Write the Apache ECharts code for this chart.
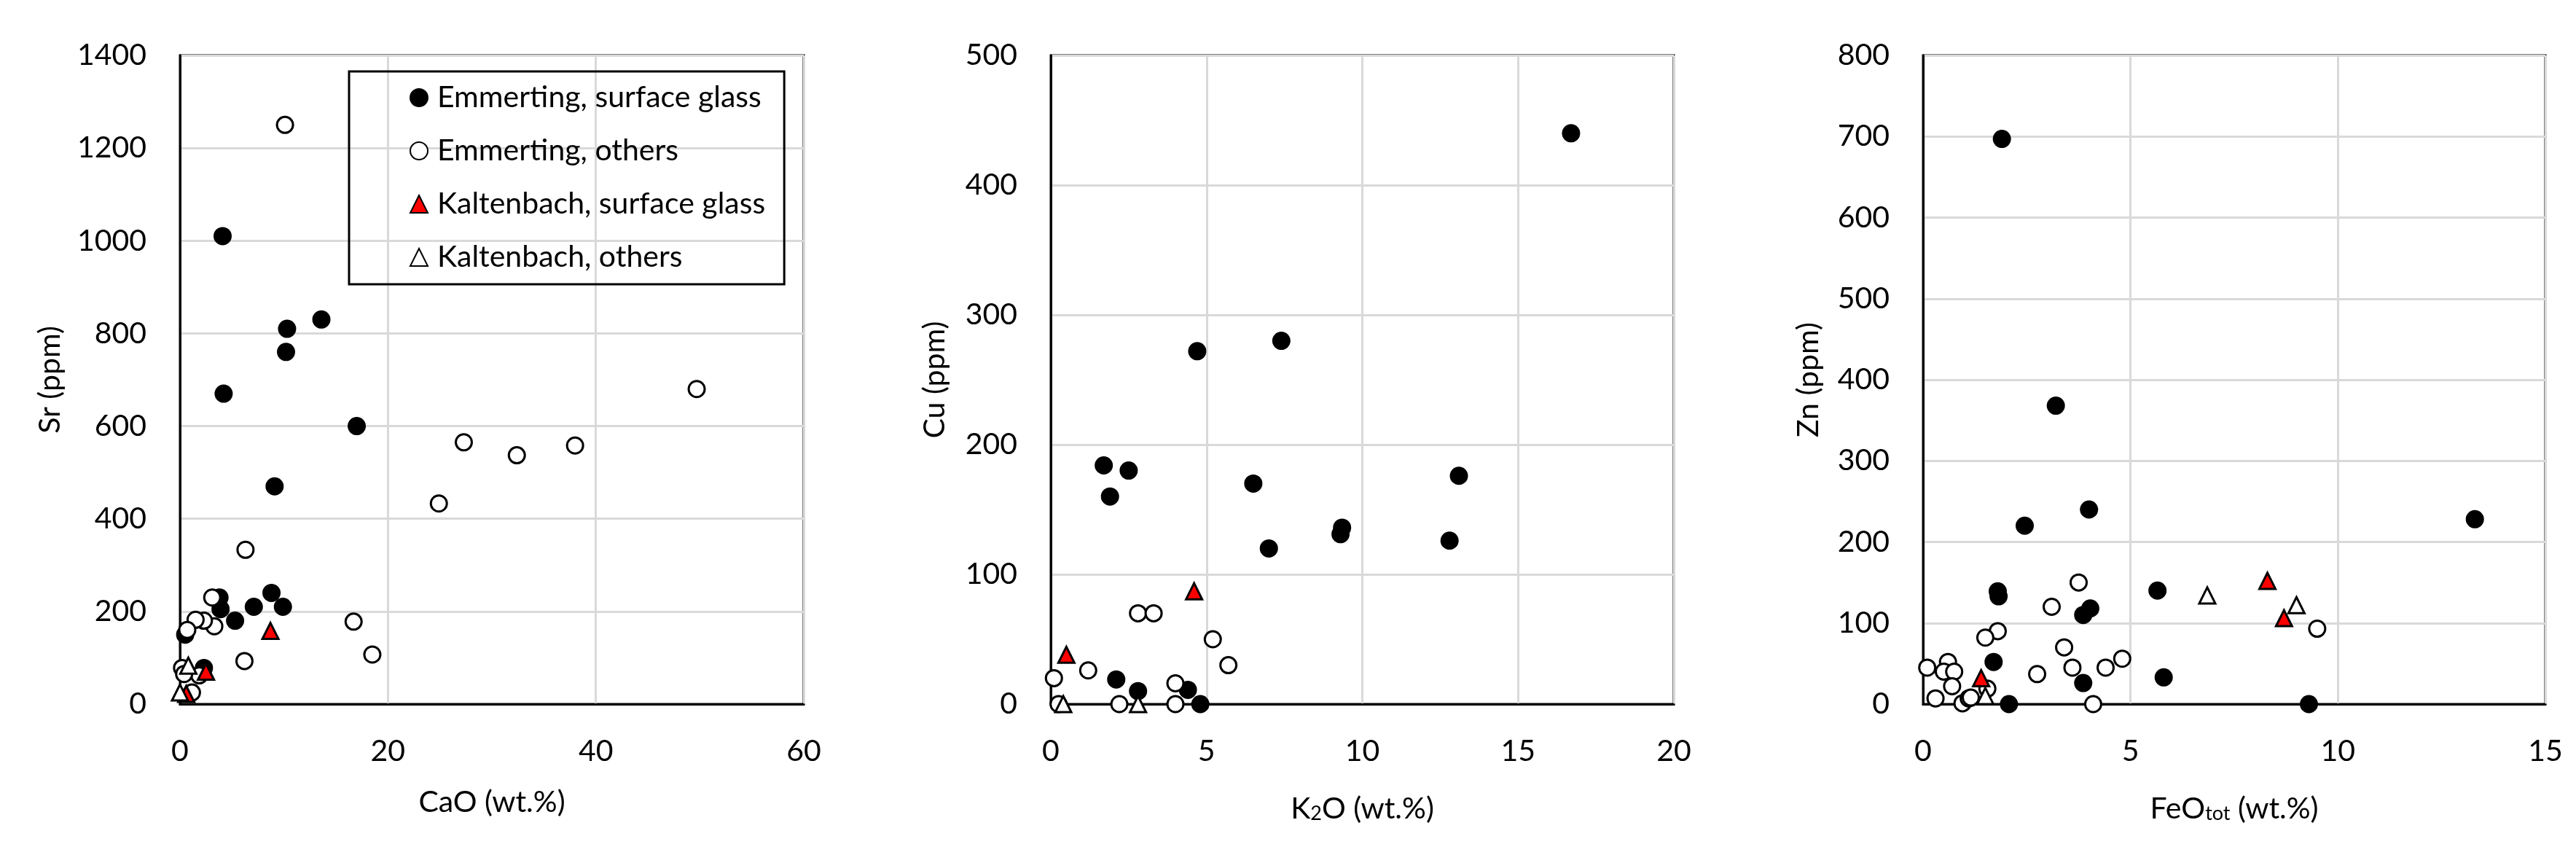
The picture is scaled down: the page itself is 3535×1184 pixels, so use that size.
<!DOCTYPE html>
<html>
<head>
<meta charset="utf-8">
<script src="https://cdn.jsdelivr.net/npm/echarts@6/dist/echarts.min.js"></script>
<style>
  html, body { margin: 0; padding: 0; background: #fff; }
  #chart { width: 3535px; height: 1184px; }
</style>
</head>
<body>
<div id="chart"></div>
<script>
// series names
var seriesNames = ['Emmerting, surface glass', 'Emmerting, others', 'Kaltenbach, surface glass', 'Kaltenbach, others'];

// Sr vs CaO
var srEmmSurface = [[4.1,1010],[10.3,810],[13.6,830],[10.2,760],[4.2,670],[17.0,600],[9.1,470],[8.8,240],[7.1,210],[9.9,210],[5.3,180],[3.8,230],[3.9,205],[0.5,150],[2.3,78]];
var srEmmOthers = [[10.1,1250],[49.7,680],[27.3,565],[32.4,537],[38.0,558],[24.9,433],[6.3,333],[3.1,230],[3.3,168],[2.3,180],[1.5,182],[0.7,160],[16.7,178],[18.5,107],[6.2,93],[1.85,62],[0.2,78],[0.4,65],[1.15,25]];
var srKalSurface = [[8.7,158],[2.5,70],[0.6,22]];
var srKalOthers = [[0.8,83],[0.0,25]];

// Cu vs K2O
var cuEmmSurface = [[16.7,440],[7.4,280],[4.7,272],[1.7,184],[2.5,180],[1.9,160],[6.5,170],[13.1,176],[9.35,136],[9.3,131],[7.0,120],[12.8,126],[2.1,19],[2.8,10],[4.4,11],[4.8,0]];
var cuEmmOthers = [[2.8,70],[3.3,70],[5.2,50],[5.7,30],[1.2,26],[0.1,20],[4.0,16],[2.2,0],[4.0,0],[0.25,0]];
var cuKalSurface = [[4.6,87],[0.5,38]];
var cuKalOthers = [[0.4,0],[2.8,0]];

// Zn vs FeOtot
var znEmmSurface = [[1.9,697],[3.2,368],[4.0,240],[2.45,220],[13.3,228],[1.8,139],[1.82,133],[5.65,140],[4.03,118],[3.86,110],[1.7,52],[3.86,26],[5.8,33],[2.07,0],[9.3,0]];
var znEmmOthers = [[3.75,150],[3.1,120],[1.8,90],[1.5,82],[9.5,93],[3.4,70],[4.8,56],[4.4,45],[3.6,45],[2.75,37],[4.1,0],[0.1,45],[0.6,52],[0.5,40],[0.75,40],[0.7,22],[0.3,7],[0.95,1],[1.1,7],[1.15,8],[1.55,19]];
var znKalSurface = [[8.3,152],[8.7,106],[1.4,32]];
var znKalOthers = [[6.85,134],[9.0,122],[1.5,10]];

// axis ranges
var xMax = [60, 20, 15], xStep = [20, 5, 5];
var yMax = [1400, 500, 800], yStep = [200, 100, 100];
var yNames = ['Sr (ppm)', 'Cu (ppm)', 'Zn (ppm)'];
var xNames = ['CaO (wt.%)', '{n|K}{s|2}{n|O (wt.%)}', '{n|FeO}{s|tot}{n| (wt.%)}'];

var font = 'Lato';
var fs = 41;
var markerStyles = [
  { symbol: 'circle', color: '#000' },
  { symbol: 'circle', color: '#fff' },
  { symbol: 'triangle', color: '#ff0000' },
  { symbol: 'triangle', color: '#fff' }
];
var plotData = [
  [srEmmSurface, srEmmOthers, srKalSurface, srKalOthers],
  [cuEmmSurface, cuEmmOthers, cuKalSurface, cuKalOthers],
  [znEmmSurface, znEmmOthers, znKalSurface, znKalOthers]
];

var grids = [
  { left: 247, top: 76, width: 856, height: 890 },
  { left: 1442, top: 76, width: 855, height: 890 },
  { left: 2639, top: 76, width: 854, height: 890 }
];
var yNameGap = [158, 139, 137];

var xAxes = [], yAxes = [], seriesArr = [];
for (let i = 0; i < 3; i++) {
  grids[i].show = true;
  grids[i].borderColor = '#000';
  grids[i].borderWidth = 3;
  xAxes.push({
    gridIndex: i, type: 'value', min: 0, max: xMax[i], interval: xStep[i],
    name: xNames[i], nameLocation: 'middle', nameGap: 114,
    nameTextStyle: {
      color: '#000', fontFamily: font, fontSize: fs,
      rich: {
        n: { fontFamily: font, fontSize: fs, color: '#000', lineHeight: 50, verticalAlign: 'bottom' },
        s: { fontFamily: font, fontSize: 27, color: '#000', lineHeight: 12, verticalAlign: 'bottom' }
      }
    },
    axisLine: { show: true, onZero: false, lineStyle: { color: '#000', width: 3 } },
    axisTick: { show: false },
    axisLabel: { color: '#000', fontFamily: font, fontSize: fs, margin: 44, formatter: function (v) { return String(v); } },
    splitLine: { show: true, lineStyle: { color: '#d9d9d9', width: 3 } }
  });
  yAxes.push({
    gridIndex: i, type: 'value', min: 0, max: yMax[i], interval: yStep[i],
    name: yNames[i], nameLocation: 'middle', nameGap: yNameGap[i],
    nameTextStyle: { color: '#000', fontFamily: font, fontSize: fs },
    axisLine: { show: true, onZero: false, lineStyle: { color: '#000', width: 3 } },
    axisTick: { show: false },
    axisLabel: { color: '#000', fontFamily: font, fontSize: fs, margin: 46, formatter: function (v) { return String(v); } },
    splitLine: { show: true, lineStyle: { color: '#d9d9d9', width: 3 } }
  });
  for (let k = 0; k < 4; k++) {
    seriesArr.push({
      name: seriesNames[k],
      type: 'scatter',
      xAxisIndex: i, yAxisIndex: i,
      symbol: markerStyles[k].symbol,
      symbolSize: 22,
      clip: false,
      itemStyle: { color: markerStyles[k].color, borderColor: '#000', borderWidth: 3, opacity: 1 },
      emphasis: { disabled: true },
      data: plotData[i][k]
    });
  }
}

var option = {
  animation: false,
  backgroundColor: '#fff',
  legend: {
    data: seriesNames,
    orient: 'vertical',
    left: 479, top: 98,
    padding: [15, 26, 16, 83],
    itemWidth: 24, itemHeight: 24, itemGap: 31,
    borderColor: '#000', borderWidth: 3,
    selectedMode: false,
    textStyle: { color: '#000', fontFamily: font, fontSize: fs, lineHeight: 42, padding: [0, 0, 0, 8] }
  },
  grid: grids,
  xAxis: xAxes,
  yAxis: yAxes,
  series: seriesArr
};

let myChart = echarts.init(document.getElementById('chart'));
myChart.setOption(option);
</script>
</body>
</html>
